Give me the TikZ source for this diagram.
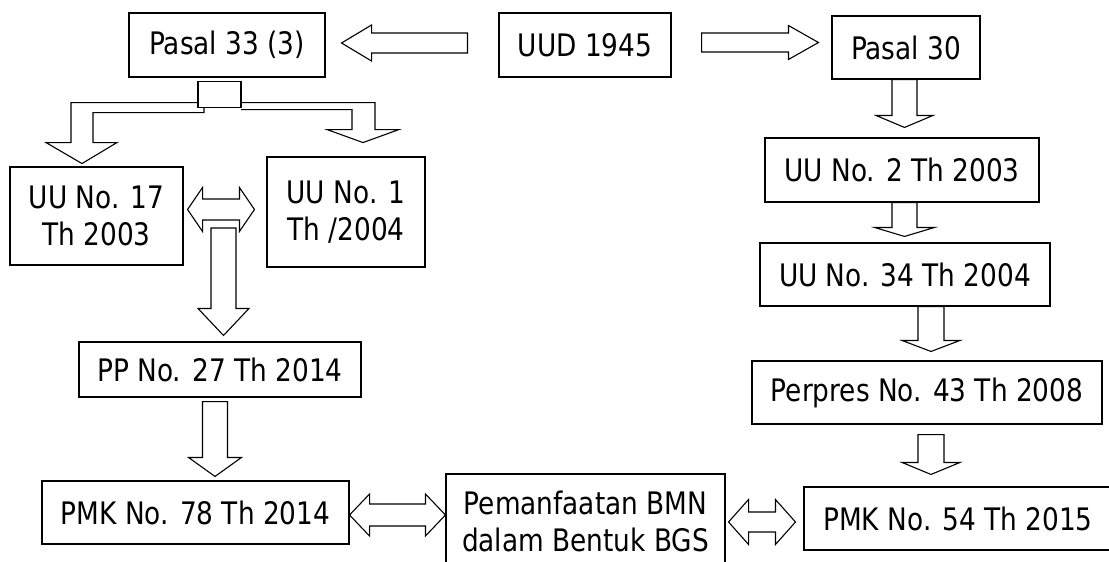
\documentclass[tikz,border=0pt]{standalone}
\usepackage{fontspec}
\setmainfont{DejaVu Sans}[FakeStretch=0.85]
\usepackage{tikz}
\usetikzlibrary{calc}

\tikzset{
  box/.style={draw, line width=1.1pt, fill=white, align=center, inner sep=0pt,
    font=\fontsize{31}{37}\selectfont},
  blk/.style={draw, line width=1.1pt, fill=white, line join=miter}
}

% block arrows: #1 start, #2 tip, #3 half shaft, #4 half head, #5 head length
\newcommand{\downblk}[5]{%
  \draw[blk] let \p1=#1, \p2=#2 in
    (\x2-#3pt,\y1) -- (\x2-#3pt,\y2+#5pt) -- (\x2-#4pt,\y2+#5pt) -- (\x2,\y2)
    -- (\x2+#4pt,\y2+#5pt) -- (\x2+#3pt,\y2+#5pt) -- (\x2+#3pt,\y1) -- cycle;}
\newcommand{\sideblk}[5]{%
  \draw[blk] let \p1=#1, \p2=#2, \n1={(\x1>\x2)*2-1} in
    (\x1,\y2-#3pt) -- (\x2+\n1*#5pt,\y2-#3pt) -- (\x2+\n1*#5pt,\y2-#4pt) -- (\x2,\y2)
    -- (\x2+\n1*#5pt,\y2+#4pt) -- (\x2+\n1*#5pt,\y2+#3pt) -- (\x1,\y2+#3pt) -- cycle;}
\newcommand{\dblblk}[5]{%
  \draw[blk] let \p1=#1, \p2=#2 in
    (\x1,\y1) -- (\x1+#5pt,\y1+#4pt) -- (\x1+#5pt,\y1+#3pt) -- (\x2-#5pt,\y1+#3pt)
    -- (\x2-#5pt,\y1+#4pt) -- (\x2,\y1) -- (\x2-#5pt,\y1-#4pt) -- (\x2-#5pt,\y1-#3pt)
    -- (\x1+#5pt,\y1-#3pt) -- (\x1+#5pt,\y1-#4pt) -- cycle;}

\begin{document}
\begin{tikzpicture}[x=1pt,y=-1pt]

    \useasboundingbox (0,0) rectangle (1109,562);
    \clip (0,0) rectangle (1109,562);
    \fill[white] (0,0) rectangle (1109,562);

    \node[box, minimum width=196pt, minimum height=64pt] (p33) at (227,45) {Pasal 33 (3)};
    \node[box, minimum width=172pt, minimum height=64pt] (uud) at (585,45) {UUD 1945};
    \node[box, minimum width=148pt, minimum height=63pt] (p30) at (906,47.5) {Pasal 30};

    \node[box, minimum width=173pt, minimum height=98pt] (uu17) at (96.5,216) {UU No. 17\\Th 2003};
    \node[box, minimum width=158pt, minimum height=110pt] (uu1) at (346,212) {UU No. 1\\Th /2004};
    \node[box, minimum width=282pt, minimum height=55pt] (pp) at (220,369.5) {PP No. 27 Th 2014};
    \node[box, minimum width=307pt, minimum height=63pt] (pmk78) at (195.5,512.5) {PMK No. 78 Th 2014};

    \node[box, minimum width=274pt, minimum height=64pt] (uu2) at (902,170) {UU No. 2 Th 2003};
    \node[box, minimum width=290pt, minimum height=63pt] (uu34) at (905,274.5) {UU No. 34 Th 2004};
    \node[box, minimum width=350pt, minimum height=63pt] (perpres) at (927,392.5) {Perpres No. 43 Th 2008};
    \node[box, minimum width=308pt, minimum height=63pt] (pmk54) at (958,518.5) {PMK No. 54 Th 2015};

    \node[box, minimum width=279pt, minimum height=94pt] (bgs) at (585.5,521) {Pemanfaatan BMN\\dalam Bentuk BGS};

    % top row
    \sideblk{($(uud.west)+(-31,-2)$)}{($(p33.east)+(16,-2)$)}{10}{18}{30}
    \sideblk{($(uud.east)+(30,-2.5)$)}{($(p30.west)+(-13,-5)$)}{9.5}{17}{30}

    % split under Pasal 33
    \begin{scope}[shift={(p33.south)}]
        \draw[blk] (-29,25) -- (-156,25) -- (-156,65) -- (-181,65) -- (-145,86) -- (-110,65)
            -- (-134,65) -- (-134,35) -- (-23,35) -- (-23,30);
        \draw[blk] (14,25) -- (148,25) -- (148,52) -- (172,52) -- (136,65) -- (100,52)
            -- (125,52) -- (125,32) -- (14,32);
        \draw[blk] (-29,4) rectangle (14,30);
    \end{scope}

    % left column
    \dblblk{($(uu17.east)+(4,-6.5)$)}{($(uu1.west)+(-12,-2.5)$)}{10.5}{22}{15}
    \downblk{($(uu17.east)!.5!(uu1.west)+(0,14)$)}{($(pp.north)+(3.5,-6)$)}{12.5}{25.5}{27}
    \downblk{($(pp.south)+(0,4)$)}{($(pmk78.north)+(19.5,-4)$)}{12.5}{26.5}{19}

    % right column
    \downblk{(p30.south)}{($(uu2.north)+(2.5,-10)$)}{12.5}{28.5}{12}
    \downblk{(uu2.south)}{($(uu34.north)+(-0.5,-6)$)}{12.5}{30}{9}
    \downblk{(uu34.south)}{($(perpres.north)+(4,-9)$)}{13}{29}{11}
    \downblk{($(perpres.south)+(0,10)$)}{($(pmk54.north)+(-27,-12)$)}{13}{29}{12}

    % bottom row
    \dblblk{($(pmk78.east)+(0,2.5)$)}{($(bgs.west)+(0,-6)$)}{11}{21}{20}
    \dblblk{($(bgs.east)+(3,1)$)}{($(pmk54.west)+(-8,3.5)$)}{10}{22.5}{20}

\end{tikzpicture}
\end{document}
